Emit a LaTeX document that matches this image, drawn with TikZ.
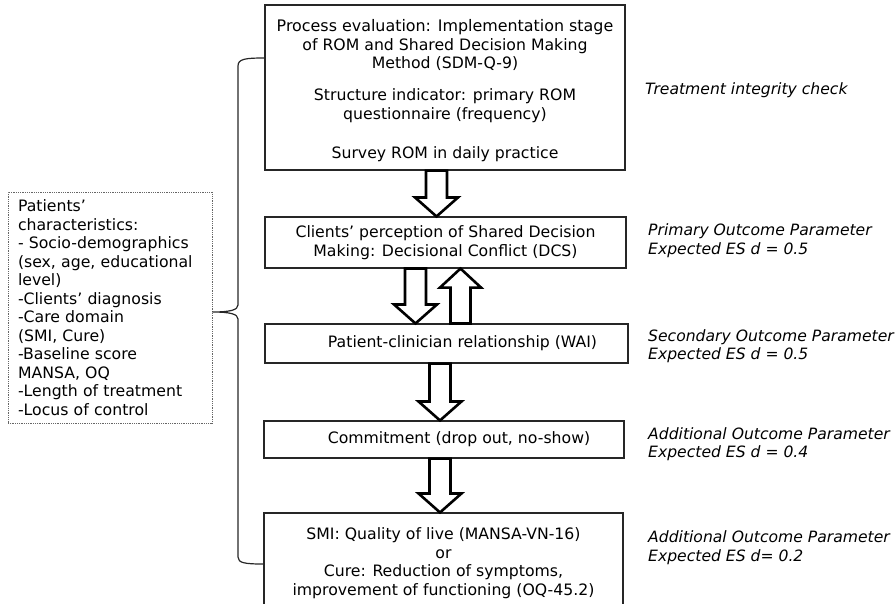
\documentclass[tikz,border=0pt]{standalone}
\usepackage{fontspec}
\setmainfont{DejaVu Sans}
\usetikzlibrary{calc}
\tikzset{
  box/.style={draw=black!85, line width=1.1pt, inner sep=0pt, align=center, font=\fontsize{15.7}{18.5}\selectfont},
  boxtext/.style={inner sep=0pt, align=center, font=\fontsize{15.7}{18.5}\selectfont},
  lbl/.style={inner sep=0pt, anchor=west, align=left, font=\fontsize{15.6}{18.5}\selectfont\itshape},
  leftbox/.style={draw=black!60, densely dotted, line width=0.8pt, inner xsep=10pt, inner ysep=0pt, align=left, text width=184pt, font=\fontsize{15.7}{18.5}\selectfont},
  blk/.style={draw=black, line width=2.6pt, fill=white, line join=miter},
  brace/.style={draw=black!85, line width=1.2pt}
}
\newcommand\blkdown[3]{% x, from coord, to coord
  \draw[blk] let \p1=(#2), \p2=(#3) in
    (#1-10.5,\y1) -- (#1+10.5,\y1) -- (#1+10.5,\y2+19) -- (#1+21.5,\y2+19) -- (#1,\y2)
    -- (#1-21.5,\y2+19) -- (#1-10.5,\y2+19) -- cycle;}
\newcommand\blkup[3]{% x, from coord (bottom), to coord (top)
  \draw[blk] let \p1=(#2), \p2=(#3) in
    (#1-10,\y1) -- (#1+10,\y1) -- (#1+10,\y2-19) -- (#1+20.5,\y2-19) -- (#1,\y2)
    -- (#1-20.5,\y2-19) -- (#1-10,\y2-19) -- cycle;}
\begin{document}
\begin{tikzpicture}[x={(1pt,0)}, y={(0,-1pt)}]
\useasboundingbox (0,0) rectangle (896,603);
\clip (0,0) rectangle (896,603);
% boxes
\node[box, minimum width=360pt, minimum height=165pt] (b1) at (445,87.5) {};
\node[boxtext] (t1) at (445,90.5)
  {\fontsize{15.9}{19.7}\selectfont Process evaluation: Implementation stage\\
   of ROM and Shared Decision Making\\
   Method (SDM-Q-9)\\[13.5pt]
   Structure indicator: primary ROM\\
   questionnaire (frequency)\\[20.5pt]
   Survey ROM in daily practice};
\node[box, minimum width=361pt, minimum height=51pt] (b2) at (445.5,242.5)
  {\fontsize{15.7}{20}\selectfont Clients’ perception of Shared Decision\\
   Making: Decisional Conflict (DCS)};
\node[box, minimum width=363pt, minimum height=39pt] (b3) at (446.5,343.5)
  {\hspace*{32pt}Patient-clinician relationship (WAI)};
\node[box, minimum width=360pt, minimum height=37pt] (b4) at (444,439.5)
  {\hspace*{30pt}Commitment (drop out, no-show)};
\node[box, minimum width=359pt, minimum height=100pt] (b5) at (443.5,563)
  {\fontsize{15.7}{17.8}\selectfont SMI: Quality of live (MANSA-VN-16)\\
   or\\
   Cure: Reduction of symptoms,\\
   improvement of functioning (OQ-45.2)};
% left box
\node[leftbox, minimum height=231pt] (pc) at (110,307.5)
  {Patients’\\
   characteristics:\\
   - Socio-demographics\\
   (sex, age, educational\\
   level)\\
   -Clients’ diagnosis\\
   -Care domain\\
   (SMI, Cure)\\
   -Baseline score\\
   MANSA, OQ\\
   -Length of treatment\\
   -Locus of control};
% brace
\coordinate (bt) at (b1.west |- 0,58);
\coordinate (bb) at (b5.west |- 0,564);
\coordinate (cusp) at (pc.east |- 0,312);
\draw[brace] (bt) .. controls (245,58) and (238,59) .. (238,66) -- (238,305)
  .. controls (238,310) and (230,312) .. (cusp)
  .. controls (230,312) and (238,314) .. (238,319) -- (238,557)
  .. controls (238,563) and (245,564) .. (bb);
% block arrows
\blkdown{436.5}{b1.south}{b2.north}
\blkdown{415.5}{b2.south |- 0,268.5}{b3.north}
\blkup{460.5}{b3.north}{b2.south}
\blkdown{440}{b3.south}{b4.north}
\blkdown{440}{b4.south}{b5.north}
% right labels
\node[lbl] (l1) at (645,90) {Treatment integrity check};
\node[lbl] (l2) at (648,240.5) {Primary Outcome Parameter\\Expected ES \textit{d} = 0.5};
\node[lbl] (l3) at (648,346) {Secondary Outcome Parameter\\Expected ES \textit{d} = 0.5};
\node[lbl] (l4) at (648,444) {Additional Outcome Parameter\\Expected ES \textit{d} = 0.4};
\node[lbl] (l5) at (648,547.5) {Additional Outcome Parameter\\Expected ES \textit{d}= 0.2};
\end{tikzpicture}
\end{document}
